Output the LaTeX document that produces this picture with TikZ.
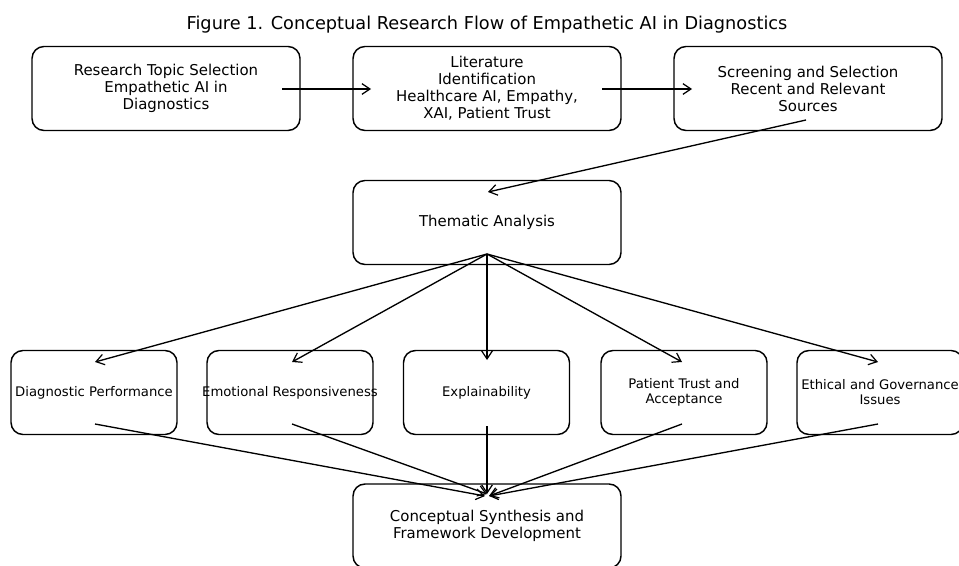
\documentclass[tikz,border=0pt]{standalone}
\usepackage{fontspec}
\setmainfont{DejaVu Sans}
\usetikzlibrary{arrows.meta}
\begin{document}
\begin{tikzpicture}[x=0.75pt,y=-0.75pt,
  box/.style={draw,line width=1.1pt,rounded corners=9pt,minimum width=201pt,minimum height=63pt,inner sep=0pt,align=center,font=\fontsize{11.2pt}{12.75pt}\selectfont},
  sbox/.style={draw,line width=1.1pt,rounded corners=9pt,minimum width=124.5pt,minimum height=63pt,inner sep=0pt,align=center,font=\fontsize{9.9pt}{11.25pt}\selectfont},
  arr/.style={-{Straight Barb[length=6pt,width=8pt,line width=0.9pt]},line width=1pt}]
\clip (0,0) rectangle (959,566);
\fill[white] (0,0) rectangle (959,566);
\node (title) at (487,25) {\fontsize{13.3pt}{15pt}\selectfont Figure 1. Conceptual Research Flow of Empathetic AI in Diagnostics};
\node[box] (b1) at (166,88.5) {Research Topic Selection\\Empathetic AI in\\Diagnostics};
\node[box] (b2) at (487,88.5) {Literature\\Identification\\Healthcare AI, Empathy,\\XAI, Patient Trust};
\node[box] (b3) at (808,88.5) {Screening and Selection\\Recent and Relevant\\Sources};
\node[box] (ta) at (487,222.5) {Thematic Analysis};
\node[sbox] (r1) at (94,392.5) {\makebox[0pt]{Diagnostic Performance}};
\node[sbox] (r2) at (290,392.5) {\makebox[0pt]{Emotional Responsiveness}};
\node[sbox] (r3) at (486.5,392.5) {Explainability};
\node[sbox] (r4) at (684,392.5) {Patient Trust and\\Acceptance};
\node[sbox] (r5) at (880,392.5) {\makebox[0pt]{Ethical and Governance}\\Issues};
\node[box] (bot) at (487,526) {Conceptual Synthesis and\\Framework Development};
% arrow end points
\coordinate (b1o) at (282,89); \coordinate (b2i) at (371,89);
\coordinate (b2o) at (602,89); \coordinate (b3i) at (692,89);
\coordinate (b3o) at (806,120); \coordinate (tai) at (488,192);
\coordinate (tao) at (487,254);
\coordinate (r1i) at (95,362); \coordinate (r2i) at (292,362); \coordinate (r3i) at (487,360);
\coordinate (r4i) at (682,362); \coordinate (r5i) at (878,362);
\coordinate (r1o) at (95,424); \coordinate (r2o) at (292,424); \coordinate (r3o) at (487,426);
\coordinate (r4o) at (682,424); \coordinate (r5o) at (878,424);
\coordinate (botl) at (485,496); \coordinate (botc) at (487,494); \coordinate (botr) at (489,496);
\draw[arr] (b1o) -- (b2i);
\draw[arr] (b2o) -- (b3i);
\draw[arr] (b3o) -- (tai);
\foreach \r in {r1i,r2i,r3i,r4i,r5i} \draw[arr] (tao) -- (\r);
\draw[arr] (r1o) -- (botl);
\draw[arr] (r2o) -- (botc);
\draw[arr] (r3o) -- (botc);
\draw[arr] (r4o) -- (botr);
\draw[arr] (r5o) -- (botr);
\end{tikzpicture}
\end{document}
